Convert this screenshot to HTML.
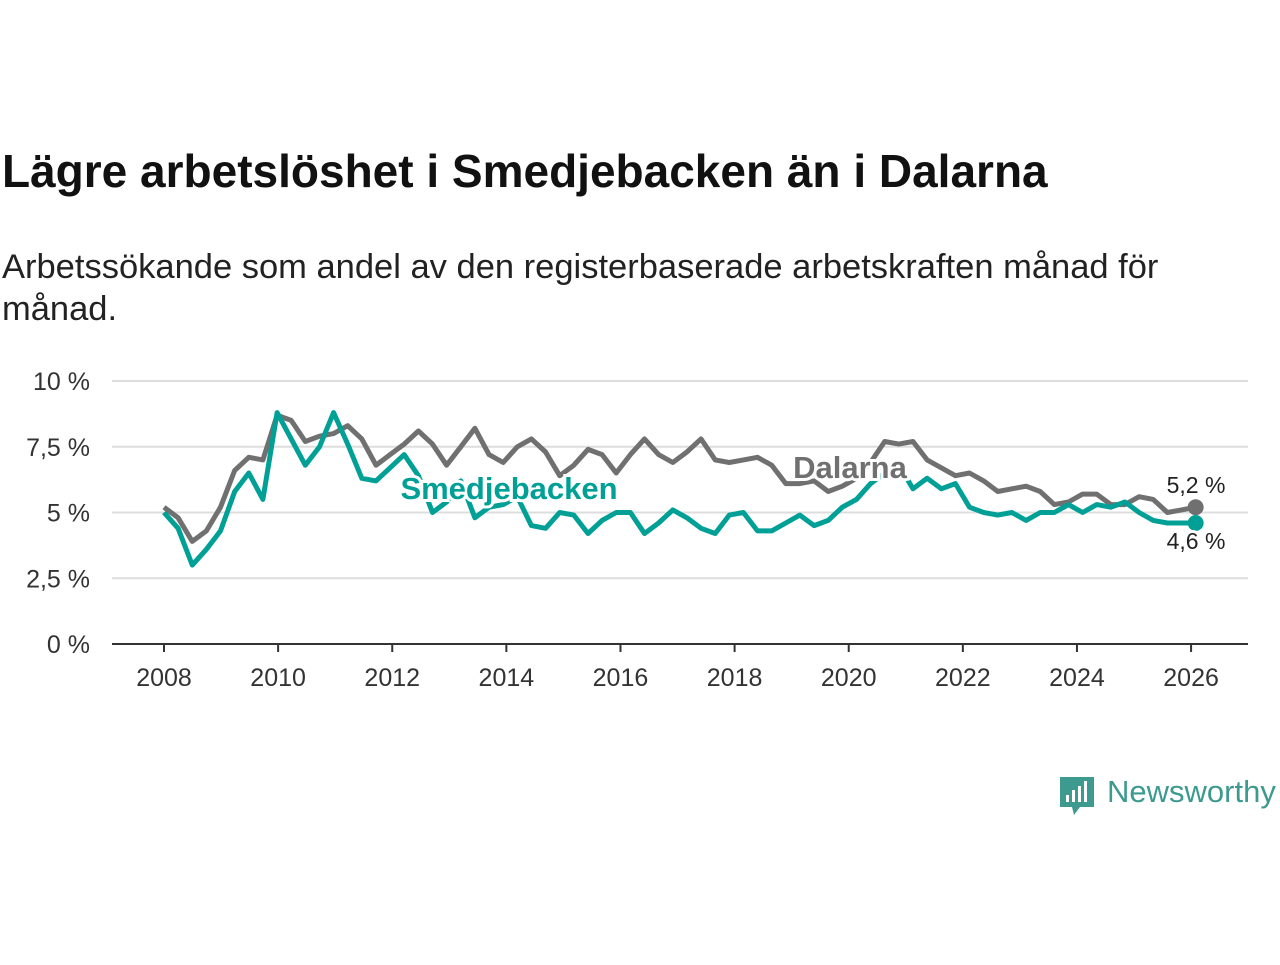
<!DOCTYPE html>
<html><head><meta charset="utf-8"><style>
body{margin:0;background:#fff;width:1280px;height:960px;overflow:hidden;font-family:"Liberation Sans",sans-serif;}
</style></head><body>
<svg width="1280" height="960">
<text x="2" y="187" font-size="46" font-weight="bold" fill="#111">Lägre arbetslöshet i Smedjebacken än i Dalarna</text>
<text x="2" y="278" font-size="34.5" fill="#222">Arbetssökande som andel av den registerbaserade arbetskraften månad för</text>
<text x="2" y="320" font-size="34.5" fill="#222">månad.</text>
<g id="grid"></g><g id="xaxis"></g><g id="lines"></g><g id="labels"></g>
<g>
<path d="M1060 777h34v30h-14l-6 8-2-8h-12z" fill="#3d9a8f"/>
<rect x="1066" y="795" width="3" height="7" fill="#fff"/><rect x="1072" y="790" width="3" height="12" fill="#fff"/><rect x="1078" y="786" width="3" height="16" fill="#fff"/><rect x="1084" y="781" width="3" height="21" fill="#fff"/>
<text x="1107" y="802" font-size="31" fill="#3d9a8f">Newsworthy</text>
</g>
</svg>
<script>
const yTicks=[0,2.5,5,7.5,10];
const yTickLabels=["0 %","2,5 %","5 %","7,5 %","10 %"];
const xTicks=[2008,2010,2012,2014,2016,2018,2020,2022,2024,2026];
const startYear=2008, endYear=2026.08;
const dalarna=[5.2,4.8,3.9,4.3,5.2,6.6,7.1,7.0,8.7,8.5,7.7,7.9,8.0,8.3,7.8,6.8,7.2,7.6,8.1,7.6,6.8,7.5,8.2,7.2,6.9,7.5,7.8,7.3,6.4,6.8,7.4,7.2,6.5,7.2,7.8,7.2,6.9,7.3,7.8,7.0,6.9,7.0,7.1,6.8,6.1,6.1,6.2,5.8,6.0,6.3,6.9,7.7,7.6,7.7,7.0,6.7,6.4,6.5,6.2,5.8,5.9,6.0,5.8,5.3,5.4,5.7,5.7,5.3,5.3,5.6,5.5,5.0,5.1,5.2];
const smedje=[5.0,4.4,3.0,3.6,4.3,5.8,6.5,5.5,8.8,7.8,6.8,7.5,8.8,7.6,6.3,6.2,6.7,7.2,6.4,5.0,5.4,6.2,4.8,5.2,5.3,5.6,4.5,4.4,5.0,4.9,4.2,4.7,5.0,5.0,4.2,4.6,5.1,4.8,4.4,4.2,4.9,5.0,4.3,4.3,4.6,4.9,4.5,4.7,5.2,5.5,6.1,6.5,6.8,5.9,6.3,5.9,6.1,5.2,5.0,4.9,5.0,4.7,5.0,5.0,5.3,5.0,5.3,5.2,5.4,5.0,4.7,4.6,4.6,4.6];
const ns="http://www.w3.org/2000/svg";
const X=yr=>164+(yr-2008)*57.06, Y=v=>644-v*26.3;
function mk(t,a,p){const e=document.createElementNS(ns,t);for(const k in a)e.setAttribute(k,a[k]);p.appendChild(e);return e;}
const g=document.getElementById('grid'),xa=document.getElementById('xaxis'),ln=document.getElementById('lines'),lb=document.getElementById('labels');
yTicks.forEach((v,i)=>{
 if(v>0){const l=mk('line',{x1:112,x2:1248,y1:Y(v),y2:Y(v),stroke:'#ddd','stroke-width':2},g);
 
 }
 const t=mk('text',{x:90,y:Y(v)+9,'font-size':25,fill:'#333','text-anchor':'end'},g);t.textContent=yTickLabels[i];
 
 
});
const ax=mk('line',{x1:112,x2:1248,y1:644,y2:644,stroke:'#333','stroke-width':2},xa);


xTicks.forEach(yr=>{
 mk('line',{x1:X(yr),x2:X(yr),y1:644,y2:652,stroke:'#333','stroke-width':2},xa);
 const t=mk('text',{x:X(yr),y:686,'font-size':25,fill:'#333','text-anchor':'middle'},xa);t.textContent=yr;
 
 
});
function path(arr){const st=(endYear-startYear)/(arr.length-1);return arr.map((v,i)=>(i?'L':'M')+X(startYear+i*st).toFixed(1)+' '+Y(v).toFixed(1)).join(' ');}
const pd=mk('path',{d:path(dalarna),fill:'none',stroke:'#707070','stroke-width':5,'stroke-linejoin':'round'},ln);


const ps=mk('path',{d:path(smedje),fill:'none',stroke:'#00a097','stroke-width':5,'stroke-linejoin':'round'},ln);


const lx=X(endYear);
const d1=mk('circle',{cx:lx,cy:Y(dalarna[dalarna.length-1]),r:8,fill:'#707070'},ln);


const d2=mk('circle',{cx:lx,cy:Y(smedje[smedje.length-1]),r:8,fill:'#00a097'},ln);


function lab(x,y,txt,fill,sz,w,name){const t=mk('text',{x:x,y:y,'font-size':sz,'font-weight':w,fill:fill,stroke:'#fff','stroke-width':6,'paint-order':'stroke','text-anchor':'middle'},lb);t.textContent=txt;
 
 }
lab(850,478,'Dalarna','#707070',31,'bold','dalarna-label');
lab(509,499,'Smedjebacken','#00a097',31,'bold','smedjebacken-label');
lab(1196,493,'5,2 %','#222',23,'normal','dalarna-end-value');
lab(1196,549,'4,6 %','#222',23,'normal','smedjebacken-end-value');
</script>
</body></html>
